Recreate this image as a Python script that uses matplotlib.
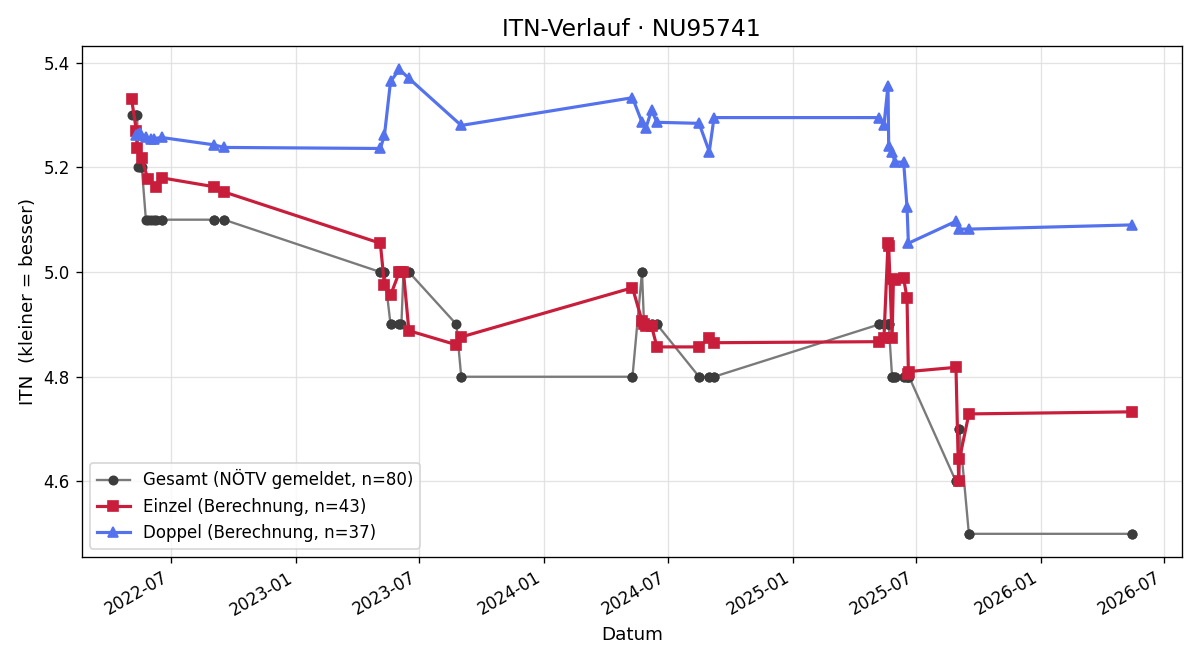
import numpy as np
import pandas as pd
import matplotlib
matplotlib.use('agg')
import matplotlib.pyplot as plt
import matplotlib.dates as mdates

# Einzel (Berechnung)
einzel_dates = ['2022-05-04', '2022-05-11', '2022-05-12', '2022-05-19', '2022-05-28',
                '2022-06-09', '2022-06-17', '2022-09-02', '2022-09-17',
                '2023-05-05', '2023-05-11', '2023-05-20', '2023-06-02', '2023-06-05',
                '2023-06-08', '2023-06-16', '2023-08-25', '2023-09-01',
                '2024-05-10', '2024-05-24', '2024-05-27', '2024-05-30', '2024-06-07',
                '2024-06-15', '2024-08-16', '2024-08-31', '2024-09-07',
                '2025-05-08', '2025-05-15', '2025-05-21', '2025-05-22', '2025-05-27',
                '2025-05-29', '2025-05-31', '2025-06-13', '2025-06-18', '2025-06-20',
                '2025-06-21',
                '2025-08-29', '2025-09-02', '2025-09-03', '2025-09-17',
                '2026-05-15']
einzel_itn = [5.330, 5.270, 5.237, 5.217, 5.177, 5.163, 5.180, 5.163, 5.153,
              5.055, 4.975, 4.956, 5.000, 5.000, 5.000, 4.888, 4.861, 4.876,
              4.970, 4.907, 4.900, 4.897, 4.897, 4.857, 4.857, 4.874, 4.865,
              4.867, 4.874, 5.055, 5.050, 4.874, 4.987, 4.985, 4.988, 4.950, 4.806,
              4.810,
              4.818, 4.600, 4.642, 4.729,
              4.733]
# gemeldeter Wert am jeweiligen Einzel-Datum
einzel_gesamt = [5.3, 5.3, 5.3, 5.2, 5.1, 5.1, 5.1, 5.1, 5.1,
                 5.0, 5.0, 4.9, 4.9, 4.9, 5.0, 5.0, 4.9, 4.8,
                 4.8, 5.0, 4.9, 4.9, 4.9, 4.9, 4.8, 4.8, 4.8,
                 4.9, 4.9, 4.9, 4.9, 4.8, 4.8, 4.8, 4.8, 4.8, 4.8,
                 4.8,
                 4.6, 4.6, 4.7, 4.5,
                 4.5]

# Doppel (Berechnung)
doppel_dates = ['2022-05-11', '2022-05-14', '2022-05-16', '2022-05-18', '2022-05-25',
                '2022-06-02', '2022-06-06', '2022-06-17', '2022-09-02', '2022-09-17',
                '2023-05-05', '2023-05-11', '2023-05-20', '2023-06-02', '2023-06-16',
                '2023-09-01',
                '2024-05-10', '2024-05-24', '2024-05-30', '2024-06-07', '2024-06-15',
                '2024-08-16', '2024-08-31', '2024-09-07',
                '2025-05-08', '2025-05-15', '2025-05-21', '2025-05-22', '2025-05-27',
                '2025-05-31', '2025-06-13', '2025-06-18', '2025-06-20',
                '2025-08-29', '2025-09-03', '2025-09-17',
                '2026-05-15']
doppel_itn = [5.261, 5.263, 5.265, 5.262, 5.258, 5.255, 5.255, 5.257, 5.243, 5.238,
              5.236, 5.261, 5.364, 5.387, 5.370, 5.280,
              5.333, 5.286, 5.276, 5.309, 5.286, 5.284, 5.230, 5.295,
              5.295, 5.280, 5.356, 5.240, 5.230, 5.210, 5.210, 5.124, 5.055,
              5.097, 5.082, 5.082,
              5.090]
doppel_gesamt = [5.3, 5.2, 5.2, 5.2, 5.1, 5.1, 5.1, 5.1, 5.1, 5.1,
                 5.0, 5.0, 4.9, 4.9, 5.0, 4.8,
                 4.8, 5.0, 4.9, 4.9, 4.9, 4.8, 4.8, 4.8,
                 4.9, 4.9, 4.9, 4.9, 4.8, 4.8, 4.8, 4.8, 4.8,
                 4.6, 4.7, 4.5,
                 4.5]

# Gesamt = alle Spiele zusammen, nach Datum sortiert
gesamt = pd.DataFrame({
    'date': pd.to_datetime(einzel_dates + doppel_dates),
    'itn': einzel_gesamt + doppel_gesamt,
}).sort_values('date', kind='mergesort')

e_dates = pd.to_datetime(einzel_dates)
d_dates = pd.to_datetime(doppel_dates)

fig, ax = plt.subplots(figsize=(10, 5.5), dpi=120)

ax.plot(gesamt['date'], gesamt['itn'], color='#7a7a7a', lw=1.4,
        marker='o', ms=5, markerfacecolor='#3c3c3c', markeredgecolor='#3c3c3c',
        label='Gesamt (NÖTV gemeldet, n=%d)' % len(gesamt))
ax.plot(e_dates, einzel_itn, color='#c81e3c', lw=1.9, marker='s', ms=6,
        label='Einzel (Berechnung, n=%d)' % len(einzel_itn))
ax.plot(d_dates, doppel_itn, color='#5572ee', lw=1.9, marker='^', ms=6,
        label='Doppel (Berechnung, n=%d)' % len(doppel_itn))

ax.xaxis.set_major_locator(mdates.MonthLocator(bymonth=[1, 7]))
ax.xaxis.set_major_formatter(mdates.DateFormatter('%Y-%m'))
ax.grid(True, color='#dddddd', alpha=0.8)

ax.set_title('ITN-Verlauf · NU95741', fontsize=14)
ax.set_xlabel('Datum', fontsize=11)
ax.set_ylabel('ITN  (kleiner = besser)', fontsize=11)
ax.legend(loc='lower left', fontsize=10)

fig.autofmt_xdate()
fig.subplots_adjust(left=0.068, right=0.985, top=0.930, bottom=0.156)
plt.savefig('out.png')
